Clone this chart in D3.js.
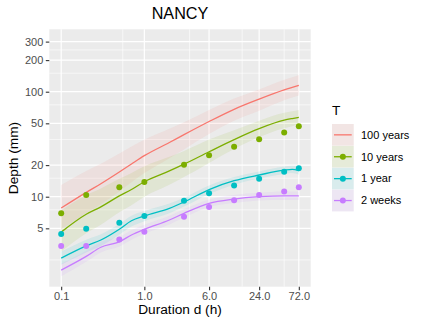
<!DOCTYPE html>
<html><head><meta charset="utf-8">
<script src="https://cdn.jsdelivr.net/npm/d3@7"></script>
<style>body{margin:0;background:#fff}svg{display:block;font-family:"Liberation Sans",Arial,sans-serif}</style>
</head><body><svg id="c" width="425" height="328"></svg>
<script>
// ---- data ----
const seriesNames = ["100 years", "10 years", "1 year", "2 weeks"];
const seriesColors = ["#F8766D", "#7CAE00", "#00BFC4", "#C77CFF"];
const xTicks = [0.1, 1, 6, 24, 72];
const xTickLabels = ["0.1", "1.0", "6.0", "24.0", "72.0"];
const xMinor = [0.55, 3.5, 15, 48];
const yTicks = [5, 10, 20, 50, 100, 200, 300];
const yTickLabels = ["5", "10", "20", "50", "100", "200", "300"];
const yMinor = [2.5, 7.5, 15, 35, 75, 150, 250];

// observed points
const obsDur = [0.1, 0.2, 0.5, 1, 3, 6, 12, 24, 48, 72];
const obs10y = [6.95, 10.4, 12.3, 13.8, 20.2, 24.8, 29.9, 35.2, 40.8, 46.8];
const obs1y  = [4.42, 4.96, 5.65, 6.55, 9.16, 10.8, 12.8, 14.8, 17.3, 18.7];
const obs2w  = [3.39, 3.39, 3.92, 4.64, 6.46, 7.98, 9.24, 10.4, 11.2, 12.3];

// model curves
const modDur = [0.1, 0.2, 0.3, 0.5, 0.7, 1, 2, 3, 6, 12, 24, 48, 60, 72];
const mod100y   = [7.8, 11.0, 13.3, 17.2, 20.5, 24.6, 32.8, 39, 52, 68, 85, 104, 110, 115];
const mod100yLo = [4.9, 7.0, 8.5, 11.2, 13.7, 16.8, 23.3, 28.2, 39.5, 53, 66, 83, 88, 92];
const mod100yHi = [12.9, 17.6, 20.6, 25.8, 30, 34.8, 44.3, 51.2, 67, 86, 105, 130, 137, 144];
const mod10y    = [4.6, 6.8, 8.0, 10.2, 11.7, 13.9, 17.6, 20.4, 26.8, 35, 44.5, 53.5, 55.5, 57];
const mod10yLo  = [3.0, 4.5, 5.4, 7.1, 8.3, 10, 13, 15.4, 21, 28.5, 37, 45, 47, 49];
const mod10yHi  = [7.4, 10.4, 12, 14.8, 16.8, 19.5, 24, 27.3, 35, 43, 53, 63, 65, 67];
const mod1y     = [2.6, 3.4, 3.87, 4.9, 5.9, 6.55, 7.75, 8.9, 11.7, 14.2, 16.1, 17.9, 18.2, 17.7];
const mod1yLo   = [2.25, 2.95, 3.4, 4.35, 5.2, 5.85, 6.95, 8.05, 10.6, 13, 14.9, 16.5, 16.8, 16.2];
const mod1yHi   = [3.0, 3.9, 4.4, 5.5, 6.6, 7.3, 8.6, 9.8, 12.8, 15.4, 17.4, 19.4, 19.7, 19.3];
const mod2w     = [2.0, 2.7, 3.3, 3.72, 4.32, 4.89, 6.0, 6.95, 8.65, 9.5, 10.0, 10.2, 10.2, 10.2];
const mod2wLo   = [1.75, 2.4, 2.95, 3.35, 3.9, 4.45, 5.45, 6.35, 7.95, 8.7, 9.2, 9.3, 9.3, 9.3];
const mod2wHi   = [2.3, 3.05, 3.7, 4.15, 4.8, 5.4, 6.6, 7.6, 9.4, 10.4, 10.9, 11.2, 11.2, 11.2];

const models = [
  {mid: mod100y, lo: mod100yLo, hi: mod100yHi, obs: null},
  {mid: mod10y, lo: mod10yLo, hi: mod10yHi, obs: obs10y},
  {mid: mod1y, lo: mod1yLo, hi: mod1yHi, obs: obs1y},
  {mid: mod2w, lo: mod2wLo, hi: mod2wHi, obs: obs2w}
];

// ---- layout ----
const P = {l: 49.3, r: 310.7, t: 29.3, b: 286.7};
const svg = d3.select("#c");
const lx0 = Math.log10(0.1), lx1 = Math.log10(72), ex = (lx1 - lx0) * 0.05;
const x = d3.scaleLog().domain([Math.pow(10, lx0 - ex), Math.pow(10, lx1 + ex)]).range([P.l, P.r]);
const y = d3.scaleLog().domain([1.39, 393]).range([P.b, P.t]);

svg.append("rect").attr("x", P.l).attr("y", P.t).attr("width", P.r - P.l).attr("height", P.b - P.t).attr("fill", "#EBEBEB");

const grid = svg.append("g");
xMinor.forEach(v => grid.append("line").attr("x1", x(v)).attr("x2", x(v)).attr("y1", P.t).attr("y2", P.b).attr("stroke", "#fff").attr("stroke-width", 0.6));
yMinor.forEach(v => grid.append("line").attr("y1", y(v)).attr("y2", y(v)).attr("x1", P.l).attr("x2", P.r).attr("stroke", "#fff").attr("stroke-width", 0.6));
xTicks.forEach(v => grid.append("line").attr("x1", x(v)).attr("x2", x(v)).attr("y1", P.t).attr("y2", P.b).attr("stroke", "#fff").attr("stroke-width", 1.2));
yTicks.forEach(v => grid.append("line").attr("y1", y(v)).attr("y2", y(v)).attr("x1", P.l).attr("x2", P.r).attr("stroke", "#fff").attr("stroke-width", 1.2));

const plot = svg.append("g");
const area = d3.area().curve(d3.curveMonotoneX).x((d, i) => x(modDur[i])).y0(d => y(d[0])).y1(d => y(d[1]));
const line = d3.line().curve(d3.curveMonotoneX).x((d, i) => x(modDur[i])).y(d => y(d));

models.forEach((m, k) => {
  plot.append("path").datum(m.lo.map((v, i) => [v, m.hi[i]])).attr("d", area)
    .attr("fill", seriesColors[k]).attr("fill-opacity", 0.1);
});
models.forEach((m, k) => {
  plot.append("path").datum(m.mid).attr("d", line).attr("fill", "none")
    .attr("stroke", seriesColors[k]).attr("stroke-width", 1.3);
});
models.forEach((m, k) => {
  if (!m.obs) return;
  plot.selectAll(null).data(m.obs).enter().append("circle")
    .attr("cx", (d, i) => x(obsDur[i])).attr("cy", d => y(d)).attr("r", 3)
    .attr("fill", seriesColors[k]);
});

// axes
const xAxis = d3.axisBottom(x).tickValues(xTicks).tickFormat((d, i) => xTickLabels[i]).tickSize(3.5).tickPadding(1.8);
const gx = svg.append("g").attr("transform", `translate(0,${P.b})`).call(xAxis);
gx.select(".domain").remove();
gx.selectAll("line").attr("stroke", "#333").attr("stroke-width", 1.1);
gx.selectAll("text").attr("fill", "#4D4D4D").attr("font-size", 11).attr("font-family", "Liberation Sans, Arial, sans-serif");

const yAxis = d3.axisLeft(y).tickValues(yTicks).tickFormat((d, i) => yTickLabels[i]).tickSize(3.5).tickPadding(2.5);
const gy = svg.append("g").attr("transform", `translate(${P.l},0)`).call(yAxis);
gy.select(".domain").remove();
gy.selectAll("line").attr("stroke", "#333").attr("stroke-width", 1.1);
gy.selectAll("text").attr("fill", "#4D4D4D").attr("font-size", 11).attr("font-family", "Liberation Sans, Arial, sans-serif");

// titles
svg.append("text").attr("x", (P.l + P.r) / 2).attr("y", 19.3).attr("text-anchor", "middle")
  .attr("font-size", 16.2).attr("fill", "#000").text("NANCY");
svg.append("text").attr("x", (P.l + P.r) / 2).attr("y", 314).attr("text-anchor", "middle")
  .attr("font-size", 13.7).attr("fill", "#000").text("Duration d (h)");
svg.append("text").attr("transform", `translate(18.3,${(P.t + P.b) / 2}) rotate(-90)`).attr("text-anchor", "middle")
  .attr("font-size", 13.7).attr("fill", "#000").text("Depth (mm)");

// legend
const L = {x: 332, y: 124, size: 21.7, step: 21.9};
svg.append("text").attr("x", L.x).attr("y", 115).attr("font-size", 13.7).attr("fill", "#000").text("T");
seriesNames.forEach((name, k) => {
  const g = svg.append("g").attr("transform", `translate(${L.x},${L.y + k * L.step})`);
  g.append("rect").attr("width", L.size).attr("height", L.size).attr("fill", "#F2F2F2");
  g.append("rect").attr("width", L.size).attr("height", L.size).attr("fill", seriesColors[k]).attr("fill-opacity", 0.1);
  g.append("line").attr("x1", 2).attr("x2", L.size - 2).attr("y1", L.size / 2).attr("y2", L.size / 2)
    .attr("stroke", seriesColors[k]).attr("stroke-width", 1.3);
  if (models[k].obs) g.append("circle").attr("cx", L.size / 2).attr("cy", L.size / 2).attr("r", 3).attr("fill", seriesColors[k]);
  g.append("text").attr("x", 29).attr("y", L.size / 2).attr("dy", "0.35em").attr("font-size", 11).attr("fill", "#000").text(name);
});
</script></body></html>
